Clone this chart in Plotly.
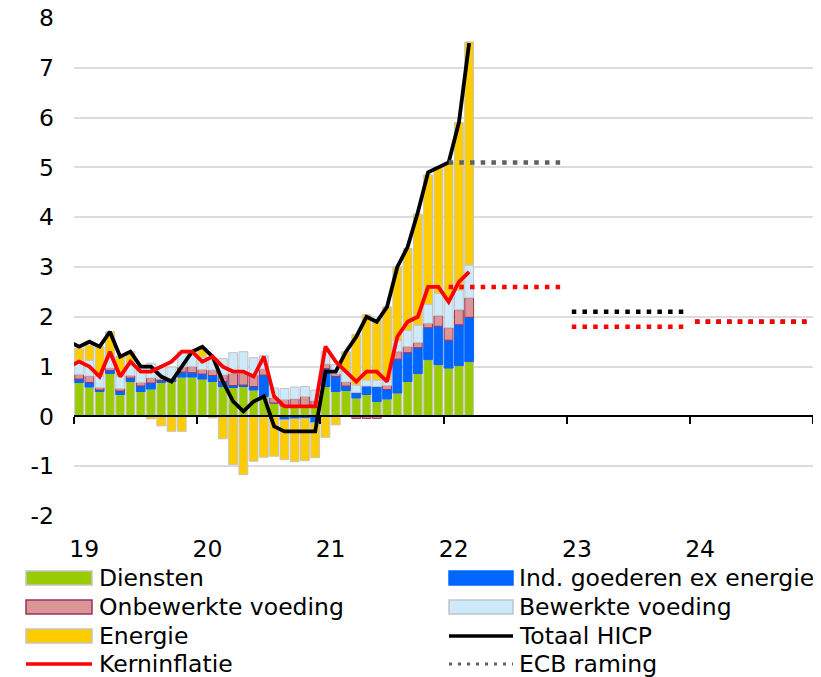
import plotly.graph_objects as go

# ---------------- data ----------------
months = [
    "2019-01", "2019-02", "2019-03", "2019-04", "2019-05", "2019-06",
    "2019-07", "2019-08", "2019-09", "2019-10", "2019-11", "2019-12",
    "2020-01", "2020-02", "2020-03", "2020-04", "2020-05", "2020-06",
    "2020-07", "2020-08", "2020-09", "2020-10", "2020-11", "2020-12",
    "2021-01", "2021-02", "2021-03", "2021-04", "2021-05", "2021-06",
    "2021-07", "2021-08", "2021-09", "2021-10", "2021-11", "2021-12",
    "2022-01", "2022-02", "2022-03",
]
diensten = [0.68, 0.59, 0.50, 0.86, 0.44, 0.70, 0.50, 0.55, 0.68, 0.70, 0.79, 0.79,
            0.75, 0.70, 0.60, 0.58, 0.60, 0.53, 0.40, 0.27, 0.21, 0.20, 0.21, 0.19,
            0.60, 0.50, 0.52, 0.37, 0.44, 0.30, 0.35, 0.47, 0.70, 0.86, 1.14, 1.04,
            0.97, 1.02, 1.10]
ind_goederen = [0.07, 0.09, 0.03, 0.06, 0.07, 0.07, 0.11, 0.12, 0.04, 0.03, 0.10, 0.09,
                0.10, 0.12, 0.10, 0.04, 0.03, 0.07, 0.43, 0.00, -0.07, -0.05, -0.04, -0.13,
                0.36, 0.30, 0.09, 0.11, 0.17, 0.30, 0.19, 0.68, 0.58, 0.52, 0.64, 0.77,
                0.56, 0.82, 0.89]
onbewerkt = [0.09, 0.13, 0.05, 0.05, 0.05, 0.05, 0.07, 0.10, 0.03, 0.03, 0.10, 0.12,
             0.09, 0.11, 0.13, 0.24, 0.23, 0.23, 0.12, 0.10, 0.13, 0.15, 0.19, 0.12,
             0.09, 0.05, 0.08, -0.04, -0.04, -0.04, 0.08, 0.15, 0.12, 0.10, 0.09, 0.21,
             0.25, 0.30, 0.39]
bewerkt = [0.28, 0.32, 0.22, 0.20, 0.25, 0.25, 0.33, 0.30, 0.25, 0.23, 0.30, 0.25,
           0.25, 0.25, 0.33, 0.42, 0.44, 0.35, 0.27, 0.20, 0.22, 0.24, 0.20, 0.22,
           0.25, 0.19, 0.22, 0.15, 0.12, 0.13, 0.12, 0.23, 0.33, 0.35, 0.38, 0.45,
           0.60, 0.40, 0.66]
energie = [0.25, 0.30, 0.60, 0.53, 0.40, 0.23, 0.00, -0.05, -0.19, -0.30, -0.30, 0.05,
           0.18, -0.03, -0.45, -0.97, -1.17, -0.90, -0.82, -0.80, -0.80, -0.86, -0.85, -0.70,
           -0.42, -0.17, 0.39, 1.01, 1.31, 1.21, 1.46, 1.47, 1.64, 2.23, 2.60, 2.54,
           2.72, 3.36, 4.48]

line_months = ["2018-12"] + months
totaal_hicp = [1.5,
               1.4, 1.5, 1.4, 1.7, 1.2, 1.3, 1.0, 1.0, 0.8, 0.7, 1.0, 1.3,
               1.4, 1.2, 0.7, 0.3, 0.1, 0.3, 0.4, -0.2, -0.3, -0.3, -0.3, -0.3,
               0.9, 0.9, 1.3, 1.6, 2.0, 1.9, 2.2, 3.0, 3.4, 4.1, 4.9, 5.0,
               5.1, 5.9, 7.5]
kerninflatie = [1.0,
                1.1, 1.0, 0.8, 1.3, 0.8, 1.1, 0.9, 0.9, 1.0, 1.1, 1.3, 1.3,
                1.1, 1.2, 1.0, 0.9, 0.9, 0.8, 1.2, 0.4, 0.2, 0.2, 0.2, 0.2,
                1.4, 1.1, 0.9, 0.7, 0.9, 0.9, 0.7, 1.6, 1.9, 2.0, 2.6, 2.6,
                2.3, 2.7, 2.9]

proj_years = [2022, 2023, 2024]
proj_hicp = [5.1, 2.1, 1.9]
proj_core = [2.6, 1.8, 1.9]

year_labels = ["19", "20", "21", "22", "23", "24"]
y_ticks = [-2, -1, 0, 1, 2, 3, 4, 5, 6, 7, 8]
y_tick_labels = ["-2", "-1", "0", "1", "2", "3", "4", "5", "6", "7", "8"]

# ---------------- helpers ----------------
BASE_YEAR = 2019


def month_index(s):
    y, m = s.split("-")
    return (int(y) - BASE_YEAR) * 12 + int(m) - 1


x_bars = [month_index(m) for m in months]
x_lines = [month_index(m) for m in line_months]

FONT = "DejaVu Sans, Verdana, sans-serif"
FS = 23.5
GRAY_EDGE = "#c4c4c4"
OFF = 8  # page body margin of the html page
W, H = 821 - OFF, 677 - OFF
ML, MR, MT, MB = 74 - OFF, 8, 18 - OFF, 161
PW, PH = W - ML - MR, H - MT - MB

fig = go.Figure()

bar_specs = [
    ("Diensten", diensten, "#99cc00", GRAY_EDGE),
    ("Ind. goederen ex energie", ind_goederen, "#0066ff", "#0066ff"),
    ("Onbewerkte voeding", onbewerkt, "#d99694", "#993366"),
    ("Bewerkte voeding", bewerkt, "#cdeafd", GRAY_EDGE),
    ("Energie", energie, "#ffcc00", GRAY_EDGE),
]
for name, vals, fill, edge in bar_specs:
    fig.add_trace(go.Bar(
        x=x_bars, y=vals, name=name, showlegend=False,
        marker=dict(color=fill, line=dict(color=edge, width=1)),
    ))

line_specs = [
    ("Totaal HICP", totaal_hicp, "#000000"),
    ("Kerninflatie", kerninflatie, "#ff0000"),
]
for name, vals, col in line_specs:
    fig.add_trace(go.Scatter(
        x=x_lines, y=vals, name=name, mode="lines", showlegend=False,
        line=dict(color=col, width=3.8),
    ))

DOT = "4.5px,6.2px"
for i, (yr, vh) in enumerate(zip(proj_years, proj_hicp)):
    x0 = (yr - BASE_YEAR) * 12
    fig.add_trace(go.Scatter(
        x=[x0, x0 + 11], y=[vh, vh], mode="lines", xaxis="x2",
        name="ECB raming", showlegend=False,
        line=dict(color="#606060" if i == 0 else "#000000", width=4.5, dash=DOT),
    ))
for yr, vc in zip(proj_years, proj_core):
    x0 = (yr - BASE_YEAR) * 12
    fig.add_trace(go.Scatter(
        x=[x0, x0 + 11], y=[vc, vc], mode="lines", xaxis="x2",
        name="ECB raming kern", showlegend=False,
        line=dict(color="#ff0000", width=4.5, dash=DOT),
    ))

# ---------------- custom legend (two columns, wide swatches) ----------------
def px_x(p):
    return (p - OFF - ML) / PW


def px_y(p):
    return (H - MB - (p - OFF)) / PH


legend_items = [
    # (label, kind, fill, edge, dash)
    ("Diensten", "rect", "#99cc00", GRAY_EDGE, None),
    ("Ind. goederen ex energie", "rect", "#0066ff", "#0066ff", None),
    ("Onbewerkte voeding", "rect", "#d99694", "#993366", None),
    ("Bewerkte voeding", "rect", "#cdeafd", GRAY_EDGE, None),
    ("Energie", "rect", "#ffcc00", GRAY_EDGE, None),
    ("Totaal HICP", "line", "#000000", None, "solid"),
    ("Kerninflatie", "line", "#ff0000", None, "solid"),
    ("ECB raming", "line", "#606060", None, "3px,6px"),
]
col_x = [(26, 92, 97), (449, 513, 517)]
row_y = [578, 607, 636, 664]
shapes, annotations = [], []
for k, (label, kind, fill, edge, dash) in enumerate(legend_items):
    sx0, sx1, tx = col_x[k % 2]
    cy = row_y[k // 2]
    if kind == "rect":
        shapes.append(dict(
            type="rect", xref="paper", yref="paper",
            x0=px_x(sx0), x1=px_x(sx1), y0=px_y(cy - 7), y1=px_y(cy + 7),
            fillcolor=fill, line=dict(color=edge, width=1.5),
        ))
    else:
        shapes.append(dict(
            type="line", xref="paper", yref="paper",
            x0=px_x(sx0), x1=px_x(sx1), y0=px_y(cy), y1=px_y(cy),
            line=dict(color=fill, width=3.5 if dash == "solid" else 3, dash=dash),
        ))
    annotations.append(dict(
        text=label, xref="paper", yref="paper", x=px_x(tx), y=px_y(cy),
        xanchor="left", yanchor="middle", showarrow=False,
        font=dict(family=FONT, size=FS, color="#000000"),
    ))

x_range = [-0.5, (2025 - BASE_YEAR) * 12 - 0.5]
year_bounds = [(k * 12) - 0.5 for k in range(len(year_labels) + 1)]
label_pos = [k * 12 + 0.5 for k in range(len(year_labels))]
y_range = [-2, 8]
zero_pos = (0 - y_range[0]) / (y_range[1] - y_range[0])

fig.update_layout(
    width=W, height=H,
    margin=dict(l=ML, r=MR, t=MT, b=MB, autoexpand=False),
    paper_bgcolor="white", plot_bgcolor="white",
    barmode="relative", bargap=0.14, showlegend=False,
    font=dict(family=FONT, size=FS, color="#000000"),
    xaxis=dict(
        range=x_range, tickmode="array", tickvals=label_pos, ticktext=year_labels,
        showgrid=False, zeroline=False, showline=False, ticks="",
        ticklabelstandoff=16,
    ),
    xaxis2=dict(
        range=x_range, overlaying="x", anchor="free", position=zero_pos,
        tickmode="array", tickvals=year_bounds, ticks="outside", ticklen=7,
        tickwidth=2, tickcolor="#000000", showline=True, linecolor="#000000",
        linewidth=2, showticklabels=False, showgrid=False, zeroline=False,
    ),
    yaxis=dict(
        range=y_range, tickmode="array", tickvals=y_ticks, ticktext=y_tick_labels,
        showgrid=True, gridcolor="#dcdcdc", gridwidth=2, zeroline=False,
        showline=False, ticks="", ticklabelstandoff=19, ticklabeloverflow="allow",
    ),
    shapes=shapes,
    annotations=annotations,
)

fig.write_html("out.html")
